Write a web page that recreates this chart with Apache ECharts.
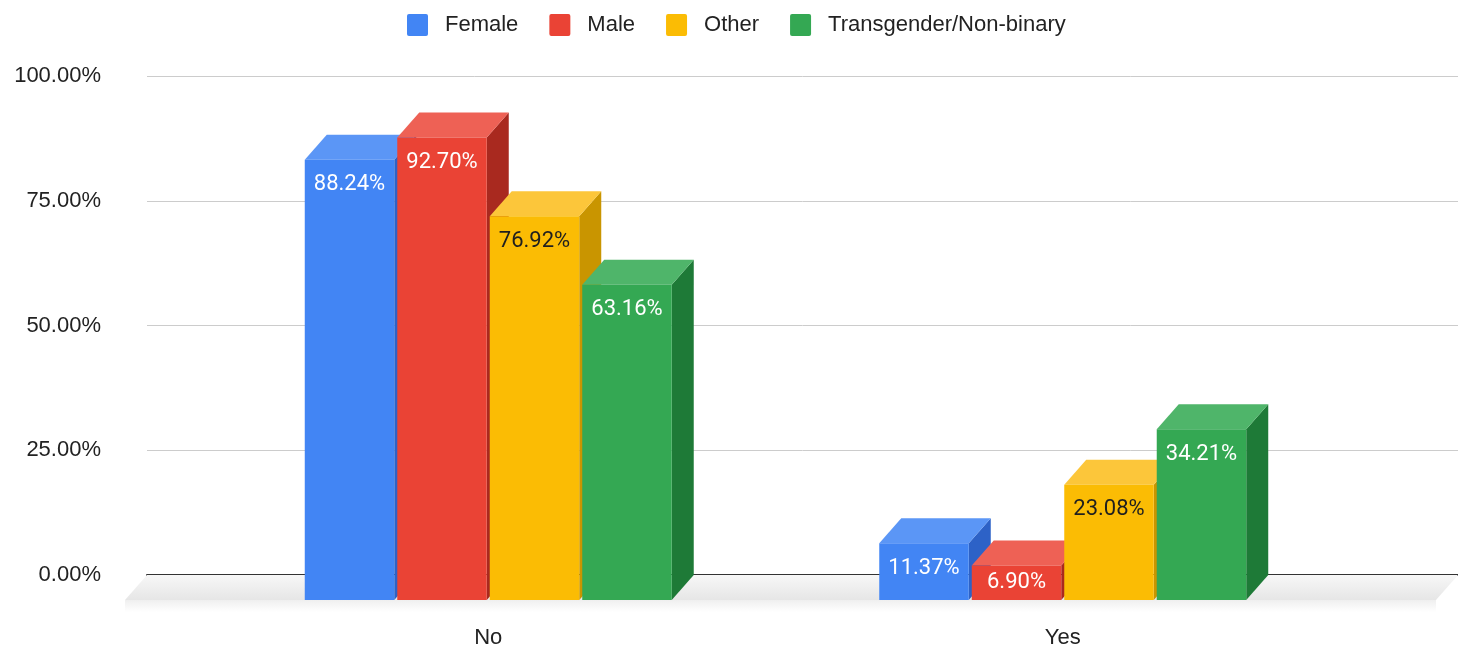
<!DOCTYPE html>
<html>
<head>
<meta charset="utf-8">
<script src="https://cdn.jsdelivr.net/npm/echarts@6/dist/echarts.min.js"></script>
<style>
  html, body { margin: 0; padding: 0; background: #fff; }
  #chart { width: 1458px; height: 649px; }
</style>
</head>
<body>
<div id="chart"></div>
<script>
const categories = ['No', 'Yes']
const seriesNames = ['Female', 'Male', 'Other', 'Transgender/Non-binary']
const female = [88.24, 11.37]
const male = [92.70, 6.90]
const other = [76.92, 23.08]
const trans = [63.16, 34.21]
const yTicks = [0, 25, 50, 75, 100]

const values = [female, male, other, trans]
// front, top, side, label colour
const palette = [
  ['#4285F4', '#5b96f6', '#2d62c7', '#ffffff'],
  ['#EA4335', '#ee6155', '#a9291f', '#ffffff'],
  ['#FBBC04', '#fcc63a', '#c99500', '#1f1f1f'],
  ['#34A853', '#4fb56a', '#1e7a37', '#ffffff']
]
const DX = 22, DY = 25

const myChart = echarts.init(document.getElementById('chart'))

function barRenderer(k) {
  return function (params, api) {
    const back = api.coord([api.value(0), api.value(1)])
    const zero = api.coord([api.value(0), 0])
    const band = api.size([1, 0])[0]
    const slot = band * 0.161
    const w = slot - 3
    const fx = back[0] - slot * 2 + slot * k + 1.5
    const fTop = back[1] + DY
    const fBase = zero[1] + DY
    const c = palette[k]
    const ly = Math.min(fTop + 25, (fTop + fBase) / 2)
    return {
      type: 'group',
      children: [
        { type: 'polygon', shape: { points: [[fx + w, fTop], [fx + w + DX, fTop - DY], [fx + w + DX, fBase - DY], [fx + w, fBase]] }, style: { fill: c[2] } },
        { type: 'polygon', shape: { points: [[fx, fTop], [fx + w, fTop], [fx + w + DX, fTop - DY], [fx + DX, fTop - DY]] }, style: { fill: c[1] } },
        { type: 'rect', shape: { x: fx, y: fTop, width: w, height: fBase - fTop }, style: { fill: c[0] } },
        { type: 'text', style: { text: api.value(1).toFixed(2) + '%', x: fx + w / 2, y: ly, align: 'center', verticalAlign: 'middle', fill: c[3], font: '22px Roboto' } }
      ]
    }
  }
}

function floorRenderer(params, api) {
  const cs = params.coordSys
  const y0 = api.coord([0, 0])[1]
  const l = cs.x, r = cs.x + cs.width
  return {
    type: 'group',
    children: [
      { type: 'rect', shape: { x: l - DX, y: y0 + DY, width: r - l, height: 12 },
        style: { fill: new echarts.graphic.LinearGradient(0, 0, 0, 1, [{ offset: 0, color: '#efefef' }, { offset: 1, color: '#ffffff' }]) } },
      { type: 'polygon', shape: { points: [[l, y0], [r, y0], [r - DX, y0 + DY], [l - DX, y0 + DY]] },
        style: { fill: new echarts.graphic.LinearGradient(0, 0, 0, 1, [{ offset: 0, color: '#f7f7f7' }, { offset: 1, color: '#e6e6e6' }]) } }
    ]
  }
}

const series = [{
  type: 'custom',
  name: 'floor',
  xAxisIndex: 0,
  yAxisIndex: 0,
  z: 1,
  silent: true,
  renderItem: floorRenderer,
  data: [[0, 0]]
}]
seriesNames.forEach((name, k) => {
  series.push({
    type: 'custom',
    name: name,
    xAxisIndex: 1,
    yAxisIndex: 1,
    z: 3,
    itemStyle: { color: palette[k][0] },
    renderItem: barRenderer(k),
    data: categories.map((c, i) => [i, values[k][i]])
  })
})

myChart.setOption({
  backgroundColor: '#ffffff',
  animation: false,
  textStyle: { fontFamily: 'Arial' },
  legend: {
    data: seriesNames,
    top: 9,
    left: 402,
    icon: 'path://M2,0 H19 Q21,0 21,2 V20 Q21,22 19,22 H2 Q0,22 0,20 V2 Q0,0 2,0 Z',
    itemWidth: 21,
    itemHeight: 22,
    itemGap: 31,
    textStyle: { fontSize: 22, color: '#222', padding: [0, 0, 0, 12], fontFamily: 'Arial' }
  },
  grid: [
    { left: 147, right: 0, top: 76, bottom: 74 },
    { left: 201, right: 108, top: 76, bottom: 74 }
  ],
  xAxis: [
    { type: 'value', gridIndex: 0, min: 0, max: 1, show: true,
      axisLine: { show: true, onZero: false, lineStyle: { color: '#333', width: 2 } },
      axisTick: { show: false }, axisLabel: { show: false }, splitLine: { show: false } },
    { type: 'category', gridIndex: 1, data: categories,
      axisLine: { show: false }, axisTick: { show: false }, splitLine: { show: false },
      axisLabel: { fontSize: 22, color: '#222', margin: 52 } }
  ],
  yAxis: [
    { type: 'value', gridIndex: 0, min: yTicks[0], max: yTicks[yTicks.length - 1], interval: 25,
      axisLine: { show: false }, axisTick: { show: false },
      axisLabel: { fontSize: 22, color: '#222', margin: 46, formatter: v => v.toFixed(2) + '%' },
      splitLine: { lineStyle: { color: '#cccccc', width: 1 } } },
    { type: 'value', gridIndex: 1, min: 0, max: 100, show: false }
  ],
  series: series
})
</script>
</body>
</html>
